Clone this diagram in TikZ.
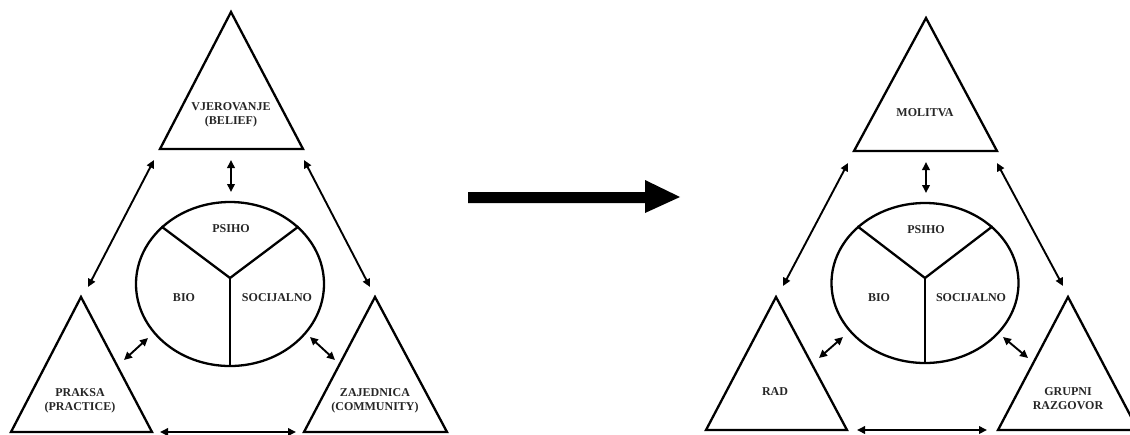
\documentclass[tikz,border=0pt]{standalone}
\usepackage{fontspec}
\setmainfont{Liberation Serif}
\usetikzlibrary{arrows.meta,shapes.geometric}
\begin{document}
\begin{tikzpicture}[x=1pt,y=-1pt,
  edge/.style={line width=2.3pt, line join=miter},
  link/.style={line width=1.9pt, {Triangle[length=8pt,width=7.5pt]}-{Triangle[length=8pt,width=7.5pt]}},
  lbl/.style={font=\bfseries\fontsize{12}{14}\selectfont, align=center, inner sep=0pt, text=black!85},
  core/.style={ellipse, draw, line width=2.3pt, inner sep=0pt},
  bigarrow/.style={fill=black}]
\useasboundingbox (0,0) rectangle (1130,434);

% ---------------- left diagram ----------------
\draw[edge] (231,12) -- (303,149) -- (160,149) -- cycle;
\node[lbl] (belief) at (231,115) {VJEROVANJE\\(BELIEF)};
\draw[edge] (81,297) -- (152,432) -- (11,432) -- cycle;
\node[lbl] (practice) at (80,401) {PRAKSA\\(PRACTICE)};
\draw[edge] (375,297) -- (447,432) -- (304,432) -- cycle;
\node[lbl] (community) at (375,401) {ZAJEDNICA\\(COMMUNITY)};

\node[core, minimum width=188pt, minimum height=164pt] (c1) at (230,284) {};
\coordinate (y1) at (230,278);
\draw[edge] (c1.140) -- (y1) -- (c1.40);
\draw[edge] (y1) -- (c1.south);
\node[lbl] (psiho1) at (231,229) {PSIHO};
\node[lbl] (bio1) at (184,298) {BIO};
\node[lbl] (soc1) at (277,298) {SOCIJALNO};

\coordinate (a1s) at (231,160); \coordinate (a1e) at (231,192);
\coordinate (a2s) at (154,160); \coordinate (a2e) at (88,287);
\coordinate (a3s) at (304,160); \coordinate (a3e) at (370,287);
\coordinate (a4s) at (148,338); \coordinate (a4e) at (124,360);
\coordinate (a5s) at (310,337); \coordinate (a5e) at (335,360);
\coordinate (a6s) at (160,432); \coordinate (a6e) at (296,432);
\foreach \i in {1,...,6} \draw[link] (a\i s) -- (a\i e);

% ---------------- big arrow ----------------
\fill[bigarrow] (468,192) -- (645,192) -- (645,180) -- (680,197) -- (645,213) -- (645,203) -- (468,203) -- cycle;

% ---------------- right diagram ----------------
\draw[edge] (926,18) -- (997,151) -- (854,151) -- cycle;
\node[lbl] (molitva) at (925,113) {MOLITVA};
\draw[edge] (776,297) -- (847,430) -- (706,430) -- cycle;
\node[lbl] (rad) at (775,392) {RAD};
\draw[edge] (1068,297) -- (1138,430) -- (998,430) -- cycle;
\node[lbl] (grupni) at (1068,399) {GRUPNI\\RAZGOVOR};

\node[core, minimum width=187pt, minimum height=160pt] (c2) at (925,283) {};
\coordinate (y2) at (925,278);
\draw[edge] (c2.140) -- (y2) -- (c2.40);
\draw[edge] (y2) -- (c2.south);
\node[lbl] (psiho2) at (926,230) {PSIHO};
\node[lbl] (bio2) at (879,298) {BIO};
\node[lbl] (soc2) at (971,298) {SOCIJALNO};

\coordinate (b1s) at (926,162); \coordinate (b1e) at (926,193);
\coordinate (b2s) at (848,163); \coordinate (b2e) at (783,286);
\coordinate (b3s) at (997,163); \coordinate (b3e) at (1063,286);
\coordinate (b4s) at (843,337); \coordinate (b4e) at (819,358);
\coordinate (b5s) at (1003,337); \coordinate (b5e) at (1028,358);
\coordinate (b6s) at (857,430); \coordinate (b6e) at (987,430);
\foreach \i in {1,...,6} \draw[link] (b\i s) -- (b\i e);
\end{tikzpicture}
\end{document}
